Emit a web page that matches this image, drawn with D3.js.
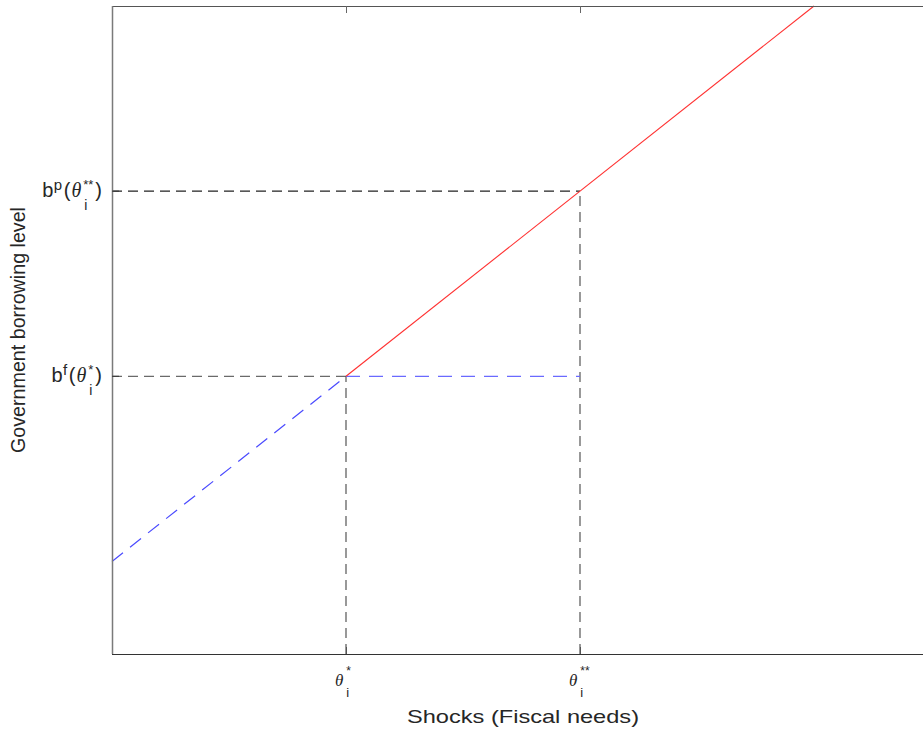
<!DOCTYPE html>
<html><head><meta charset="utf-8">
<script src="https://cdn.jsdelivr.net/npm/d3@7"></script>
<style>html,body{margin:0;padding:0;background:#fff;}svg{display:block;}</style>
</head><body>
<svg id="chart" width="923" height="729"></svg>
<script>
// ---- data ----
const xDomain = [0, 4];
const yDomain = [0, 3.5];
const xTicks = [1, 2];
const xTickStars = ["*", "**"];
const yTicks = [1.5, 2.5];
const yTickLetters = ["f", "p"];
const yTickStars = ["*", "**"];
const redX = [1, 3];
const redY = [1.5, 3.5];
const blueDiagX = [0, 1];
const blueDiagY = [0.5, 1.5];
const blueFlatX = [1, 2];
const blueFlatY = [1.5, 1.5];
const xLabel = "Shocks (Fiscal needs)";
const yLabel = "Government borrowing level";

const svg = d3.select("#chart");
const x = d3.scaleLinear().domain(xDomain).range([112, 1048]);
const y = d3.scaleLinear().domain(yDomain).range([654, 6]);
const sans = "Liberation Sans, Arial, Helvetica, sans-serif";
const serif = "Liberation Serif, Times New Roman, serif";

const line = d3.line().x(d => x(d[0])).y(d => y(d[1]));
const zip = (a, b) => a.map((v, i) => [v, b[i]]);

// guide dashed lines
svg.append("path").attr("d", line([[xDomain[0], yTicks[0]], [xTicks[0], yTicks[0]]]))
  .attr("fill", "none").attr("stroke", "#6a6a6a").attr("stroke-width", 1.2).attr("stroke-dasharray", "10,6");
svg.append("path").attr("d", line([[xDomain[0], yTicks[1]], [xTicks[1], yTicks[1]]]))
  .attr("fill", "none").attr("stroke", "#222").attr("stroke-width", 1.1).attr("stroke-dasharray", "10,6");
svg.append("path").attr("d", line([[xTicks[0], yDomain[0]], [xTicks[0], yTicks[0]]]))
  .attr("fill", "none").attr("stroke", "#555").attr("stroke-width", 1.2).attr("stroke-dasharray", "10,6");
svg.append("path").attr("d", line([[xTicks[1], yDomain[0]], [xTicks[1], yTicks[1]]]))
  .attr("fill", "none").attr("stroke", "#555").attr("stroke-width", 1.2).attr("stroke-dasharray", "10,6");

// blue dashed
svg.append("path").attr("d", line(zip(blueDiagX, blueDiagY)))
  .attr("fill", "none").attr("stroke", "#4a4aff").attr("stroke-width", 1.2).attr("stroke-dasharray", "14,9");
svg.append("path").attr("d", line(zip(blueFlatX, blueFlatY)))
  .attr("fill", "none").attr("stroke", "#6a6aff").attr("stroke-width", 1.2).attr("stroke-dasharray", "14,9");
// red solid
svg.append("path").attr("d", line(zip(redX, redY)))
  .attr("fill", "none").attr("stroke", "#ff3030").attr("stroke-width", 1.1);

// axes box
const axG = svg.append("g");
axG.append("line").attr("x1", x(xDomain[0])).attr("x2", x(xDomain[1])).attr("y1", y(yDomain[1]) + 0.5).attr("y2", y(yDomain[1]) + 0.5).attr("stroke", "#555");
axG.append("line").attr("x1", x(xDomain[0])).attr("x2", x(xDomain[1])).attr("y1", y(yDomain[0]) + 0.5).attr("y2", y(yDomain[0]) + 0.5).attr("stroke", "#333");
axG.append("line").attr("x1", x(xDomain[0]) + 0.5).attr("x2", x(xDomain[0]) + 0.5).attr("y1", y(yDomain[1])).attr("y2", y(yDomain[0])).attr("stroke", "#7a7a7a").attr("stroke-width", 1.5);
xTicks.forEach(t => {
  axG.append("line").attr("x1", x(t) + 0.5).attr("x2", x(t) + 0.5).attr("y1", y(yDomain[1])).attr("y2", y(yDomain[1]) + 7).attr("stroke", "#666");
  axG.append("line").attr("x1", x(t) + 0.5).attr("x2", x(t) + 0.5).attr("y1", y(yDomain[0])).attr("y2", y(yDomain[0]) - 7).attr("stroke", "#555");
});
yTicks.forEach(t => {
  axG.append("line").attr("x1", x(xDomain[0])).attr("x2", x(xDomain[0]) + 7).attr("y1", y(t)).attr("y2", y(t)).attr("stroke", "#333");
});

// helper: compose rich label from pieces
function rich(g, pieces) {
  let cx = 0;
  pieces.forEach(p => {
    if (p.stack) {
      let w = 0;
      p.stack.forEach(s => {
        const t = g.append("text").attr("x", cx + (s.dx || 0)).attr("y", s.dy).attr("font-family", s.family || sans)
          .attr("font-size", s.size).attr("fill", "#262626").text(s.text);
        w = Math.max(w, t.node().getComputedTextLength() + (s.dx || 0));
      });
      cx += w + (p.after || 0);
    } else {
      const t = g.append("text").attr("x", cx + (p.before || 0)).attr("y", p.dy || 0).attr("font-family", p.family || sans)
        .attr("font-size", p.size).attr("font-style", p.italic ? "italic" : "normal").attr("fill", "#262626").text(p.text);
      cx += (p.before || 0) + t.node().getComputedTextLength() + (p.after || 0);
    }
  });
  return cx;
}

// y tick labels
yTicks.forEach((t, i) => {
  const g = svg.append("g");
  const w = rich(g, [
    {text: "b", size: 20, after: 0.5},
    {text: yTickLetters[i], size: 15, dy: -7, after: 1.5},
    {text: "(", size: 20, after: 1},
    {text: "θ", size: 20, family: serif, italic: true, after: 2},
    {stack: [{text: yTickStars[i], size: 13, dy: -8}, {text: "i", size: 14, dy: 13, dx: 1}], after: 2},
    {text: ")", size: 20}
  ]);
  g.attr("transform", `translate(${102 - w},${y(t) + 5.5})`);
});

// x tick labels
xTicks.forEach((t, i) => {
  const g = svg.append("g");
  rich(g, [
    {text: "θ", size: 17, family: serif, italic: true, after: 3},
    {stack: [{text: xTickStars[i], size: 12, dy: -11}, {text: "i", size: 13, dy: 11}]}
  ]);
  g.attr("transform", `translate(${x(t) - 11},${686})`);
});

// axis titles
svg.append("text").attr("x", 523).attr("y", 723).attr("text-anchor", "middle")
  .attr("font-family", sans).attr("font-size", 19).attr("fill", "#262626")
  .attr("textLength", 232).attr("lengthAdjust", "spacingAndGlyphs").text(xLabel);
svg.append("text").attr("transform", "translate(25,330) rotate(-90)").attr("text-anchor", "middle")
  .attr("font-family", sans).attr("font-size", 20).attr("fill", "#262626")
  .attr("textLength", 246).attr("lengthAdjust", "spacingAndGlyphs").text(yLabel);
</script>
</body></html>
